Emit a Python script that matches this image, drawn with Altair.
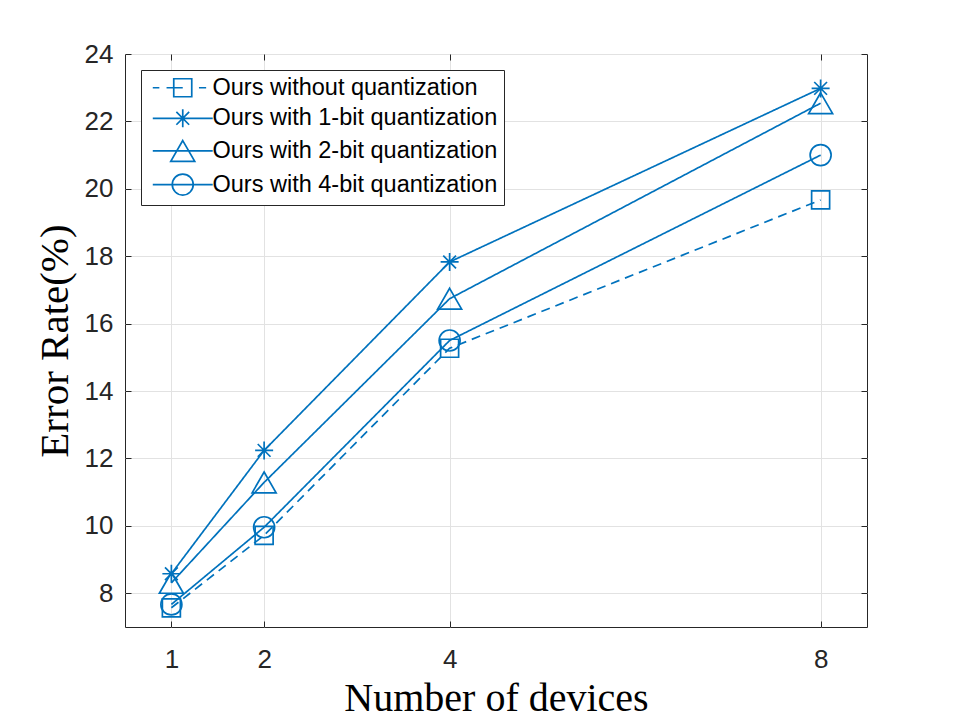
import altair as alt
import pandas as pd

# ---------------- data ----------------
devices = [1, 2, 4, 8]
series_names = [
    "Ours without quantization",
    "Ours with 1-bit quantization",
    "Ours with 2-bit quantization",
    "Ours with 4-bit quantization",
]
err_no_quant = [7.57, 9.72, 15.27, 19.67]
err_1bit = [8.58, 12.24, 17.83, 22.98]
err_2bit = [8.31, 11.29, 16.74, 22.54]
err_4bit = [7.67, 9.96, 15.50, 21.00]
y_ticks = [8, 10, 12, 14, 16, 18, 20, 22, 24]
x_label = "Number of devices"
y_label = "Error Rate(%)"

rows = []
for name, vals in zip(series_names, [err_no_quant, err_1bit, err_2bit, err_4bit]):
    for d, v in zip(devices, vals):
        rows.append({"devices": d, "error": v, "series": name})
df = pd.DataFrame(rows)

# ---------------- style ----------------
BLUE = "#0072BD"
DARK = "#262626"
GRID = "#e2e2e2"
W, H = 742, 573
LW = 1.7

ASTERISK = "M-1,0L1,0M0,-1L0,1M-0.71,-0.71L0.71,0.71M-0.71,0.71L0.71,-0.71"
SQUARE = "M-1,-1L1,-1L1,1L-1,1Z"
TRIANGLE = "M0,-1.155L1.333,1.155L-1.333,1.155Z"
CIRCLE = "M-1.167,0A1.167,1.167,0,1,0,1.167,0A1.167,1.167,0,1,0,-1.167,0Z"
marker_paths = [SQUARE, ASTERISK, TRIANGLE, CIRCLE]

LINE = "M-3.33,0L3.33,0"
DASHED = "M-3.33,0L-2.6,0M-1.8,0L0,0M1.8,0L2.6,0"
legend_paths = [DASHED + SQUARE, LINE + ASTERISK, LINE + TRIANGLE, LINE + CIRCLE]

x_scale = alt.Scale(domain=[0.5, 8.5], nice=False, zero=False)
y_scale = alt.Scale(domain=[7, 24], nice=False, zero=False)

tick_axis_common = dict(labels=False, ticks=True, tickSize=6, tickColor=DARK,
                        tickWidth=1, domain=False, grid=False, title=None)

# main lines with labelled axes + grid
lines = alt.Chart(df).mark_line(color=BLUE, strokeWidth=LW).encode(
    x=alt.X("devices:Q", scale=x_scale,
            axis=alt.Axis(orient="bottom", values=devices, title=x_label,
                          grid=True, gridColor=GRID, gridWidth=1,
                          ticks=False, domain=False, labelFlush=False,
                          labelPadding=19, labelFont="Liberation Sans",
                          labelFontSize=26, labelColor=DARK,
                          titleFont="Liberation Serif", titleFontSize=40,
                          titleFontWeight="normal", titleColor="black",
                          titleBaseline="alphabetic", titleY=83)),
    y=alt.Y("error:Q", scale=y_scale,
            axis=alt.Axis(orient="left", values=y_ticks, title=y_label,
                          grid=True, gridColor=GRID, gridWidth=1,
                          ticks=False, domain=False, labelFlush=False,
                          labelPadding=12, labelFont="Liberation Sans",
                          labelFontSize=26, labelColor=DARK,
                          titleFont="Liberation Serif", titleFontSize=41,
                          titleFontWeight="normal", titleColor="black",
                          titleBaseline="alphabetic", titleAngle=270,
                          titleAlign="center", titleX=-58, titleY=H / 2)),
    detail="series:N",
    strokeDash=alt.StrokeDash("series:N",
                              scale=alt.Scale(domain=series_names,
                                              range=[[9, 6], [1, 0], [1, 0], [1, 0]]),
                              legend=None),
)

# markers; their axes give inward ticks at bottom and left edges
points = alt.Chart(df).mark_point(filled=False, color=BLUE, strokeWidth=LW,
                                  opacity=1, size=324).encode(
    x=alt.X("devices:Q", scale=x_scale,
            axis=alt.Axis(orient="top", offset=-H, values=devices, **tick_axis_common)),
    y=alt.Y("error:Q", scale=y_scale,
            axis=alt.Axis(orient="right", offset=-W, values=y_ticks, **tick_axis_common)),
    shape=alt.Shape("series:N",
                    scale=alt.Scale(domain=series_names, range=marker_paths),
                    legend=None),
)

# legend-only layer (no marks drawn); its axes give inward ticks at top and right
legend_layer = alt.Chart(df).transform_filter("datum.devices < 0").mark_point(
    filled=False, color=BLUE, strokeWidth=LW, opacity=1).encode(
    x=alt.X("devices:Q", scale=x_scale,
            axis=alt.Axis(orient="bottom", offset=-H, values=devices, **tick_axis_common)),
    y=alt.Y("error:Q", scale=y_scale,
            axis=alt.Axis(orient="left", offset=-W, values=y_ticks, **tick_axis_common)),
    shape=alt.Shape("series:N",
                    scale=alt.Scale(domain=series_names, range=legend_paths),
                    legend=alt.Legend(orient="none", legendX=16, legendY=16,
                                      title=None, strokeColor=DARK, fillColor="white",
                                      padding=6, rowPadding=4.6, cornerRadius=0,
                                      labelFont="Liberation Sans", labelFontSize=23.5,
                                      labelColor="black", labelLimit=500,
                                      symbolSize=324, symbolOffset=24, labelOffset=18,
                                      symbolStrokeColor=BLUE, symbolStrokeWidth=LW,
                                      symbolFillColor="transparent")),
)

chart = alt.layer(lines, points, legend_layer).resolve_scale(
    shape="independent"
).resolve_axis(
    x="independent", y="independent"
).properties(
    width=W, height=H,
    padding={"left": 117, "top": 46, "right": 85, "bottom": 96},
    autosize=alt.AutoSizeParams(type="none"),
    background="white",
).configure_view(stroke=DARK, strokeWidth=1)

chart.save("out.html", embed_options={"renderer": "svg", "actions": False})
